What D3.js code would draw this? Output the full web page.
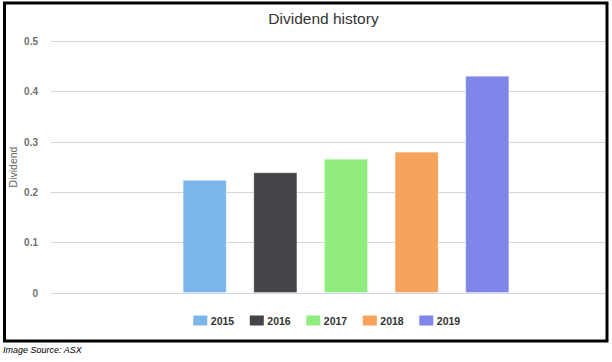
<!DOCTYPE html>
<html>
<head>
<meta charset="utf-8">
<script src="https://cdn.jsdelivr.net/npm/d3@7"></script>
<style>
  html, body { margin: 0; padding: 0; background: #fff; }
  svg text { font-family: "Liberation Sans", Arial, sans-serif; }
</style>
</head>
<body>
<div id="chart"></div>
<script>
var years = ['2015', '2016', '2017', '2018', '2019']
var dividends = [0.223, 0.238, 0.265, 0.279, 0.43]
var colors = ['#7cb5ec', '#434348', '#90ed7d', '#f7a35c', '#8085e9']
var yTicks = [0, 0.1, 0.2, 0.3, 0.4, 0.5]

var width = 612
var height = 362

var svg = d3
  .select('#chart')
  .append('svg')
  .attr('width', width)
  .attr('height', height)

// plot area
var plotLeft = 51
var plotRight = 606

var y = d3.scaleLinear().domain([0, 0.5]).range([292.5, 41])

var x = d3
  .scaleBand()
  .domain(years)
  .range([169.4, 522.6])
  .paddingInner(0.39)
  .paddingOuter(0.195)

// title
svg
  .append('text')
  .attr('x', 323.5)
  .attr('y', 24)
  .attr('text-anchor', 'middle')
  .attr('font-size', 15.5)
  .attr('fill', '#333333')
  .text('Dividend history')

// gridlines
svg
  .append('g')
  .selectAll('line')
  .data(yTicks)
  .enter()
  .append('line')
  .attr('x1', plotLeft)
  .attr('x2', plotRight)
  .attr('y1', d => Math.round(y(d)) + 0.5)
  .attr('y2', d => Math.round(y(d)) + 0.5)
  .attr('stroke', d => (d === 0 ? '#ccd6eb' : '#d6d6d6'))
  .attr('stroke-width', 1)

// y tick labels
svg
  .append('g')
  .selectAll('text')
  .data(yTicks)
  .enter()
  .append('text')
  .attr('x', 38)
  .attr('y', d => y(d) + 4)
  .attr('text-anchor', 'end')
  .attr('font-size', 10)
  .attr('font-weight', 'bold')
  .attr('fill', '#707070')
  .text(d => d3.format('')(d))

// y axis title
svg
  .append('text')
  .attr('transform', 'translate(17,167) rotate(-90)')
  .attr('text-anchor', 'middle')
  .attr('font-size', 10.5)
  .attr('fill', '#666666')
  .text('Dividend')

// bars
svg
  .append('g')
  .selectAll('rect')
  .data(dividends)
  .enter()
  .append('rect')
  .attr('x', (d, i) => x(years[i]))
  .attr('width', x.bandwidth())
  .attr('y', d => y(d))
  .attr('height', d => y(0) - y(d))
  .attr('fill', (d, i) => colors[i])
  .attr('stroke', 'rgba(255,255,255,0.35)')
  .attr('stroke-width', 1)

// legend
var legend = svg
  .append('g')
  .selectAll('g')
  .data(years)
  .enter()
  .append('g')
  .attr('transform', (d, i) => 'translate(' + (193.3 + i * 56.5) + ',0)')

legend
  .append('rect')
  .attr('x', 0)
  .attr('y', 315.5)
  .attr('width', 14)
  .attr('height', 10)
  .attr('fill', (d, i) => colors[i])

legend
  .append('text')
  .attr('x', 17.5)
  .attr('y', 324.5)
  .attr('font-size', 10.5)
  .attr('font-weight', 'bold')
  .attr('fill', '#333333')
  .text(d => d)

// frame
svg
  .append('rect')
  .attr('x', 4.5)
  .attr('y', 3)
  .attr('width', 602.5)
  .attr('height', 338)
  .attr('fill', 'none')
  .attr('stroke', '#000')
  .attr('stroke-width', 3)

// source note
svg
  .append('text')
  .attr('x', 3)
  .attr('y', 353)
  .attr('font-size', 9)
  .attr('font-style', 'italic')
  .attr('fill', '#000')
  .text('Image Source: ASX')
</script>
</body>
</html>
